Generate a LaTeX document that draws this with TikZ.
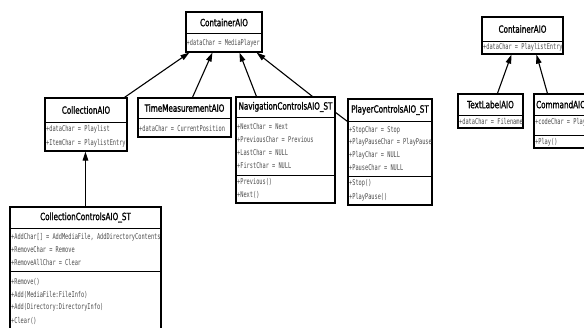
\documentclass[tikz,border=0pt]{standalone}
\usepackage{fontspec}
\usetikzlibrary{arrows.meta,fit,calc}
\newfontfamily\ttlfont[FakeStretch=0.72,FakeBold=1.2]{DejaVu Sans}
\newfontfamily\attfont[FakeStretch=0.66]{DejaVu Sans Mono}
\tikzset{
 clsbox/.style={draw=black, line width=1.1pt, fill=white, inner sep=0pt},
 ttlnode/.style={font=\ttlfont\fontsize{10}{12}\selectfont, inner sep=0pt},
 attnode/.style={font=\attfont\fontsize{8}{9}\selectfont, text=black!70, inner sep=0pt, anchor=west},
 divline/.style={line width=0.9pt},
 inherit/.style={-{Triangle[length=9pt,width=5.5pt]}, line width=1.1pt},
 assoc/.style={line width=1.1pt}
}
\begin{document}
\begin{tikzpicture}[x=1pt,y=-1pt]
\clip (0,0) rectangle (584,327);
\fill[white] (0,0) rectangle (584,327);

% ContainerAIO (left)
\node[clsbox, fit={(186,12) (262,52)}] (cont) {};
\draw[divline] (186,33) -- (262,33);
\node[ttlnode] (contT) at (224,22.5) {ContainerAIO};
\node[attnode] (contA) at (186.5,43) {+dataChar = MediaPlayer};

% CollectionAIO
\node[clsbox, fit={(45,98) (127,151)}] (coll) {};
\draw[divline] (45,122) -- (127,122);
\node[ttlnode] (collT) at (86,110) {CollectionAIO};
\node[attnode] (collA1) at (46,129.5) {+dataChar = Playlist};
\node[attnode] (collA2) at (46,143) {+ItemChar = PlaylistEntry};

% TimeMeasurementAIO
\node[clsbox, fit={(138,98) (231,137)}] (time) {};
\draw[divline] (138,118) -- (231,118);
\node[ttlnode] (timeT) at (184.5,108) {TimeMeasurementAIO};
\node[attnode] (timeA) at (139,128.5) {+dataChar = CurrentPosition};

% NavigationControlsAIO_ST
\node[clsbox, fit={(236,97) (335,203)}] (nav) {};
\draw[divline] (236,117) -- (335,117);
\draw[divline] (236,175) -- (335,175);
\node[ttlnode] (navT) at (285.5,107) {NavigationControlsAIO\_ST};
\node[attnode] (navA1) at (237,126.5) {+NextChar = Next};
\node[attnode] (navA2) at (237,140) {+PreviousChar = Previous};
\node[attnode] (navA3) at (237,153) {+LastChar = NULL};
\node[attnode] (navA4) at (237,166) {+FirstChar = NULL};
\node[attnode] (navM1) at (237,182) {+Previous()};
\node[attnode] (navM2) at (237,195) {+Next()};

% PlayerControlsAIO_ST
\node[clsbox, fit={(348,99) (432,205)}] (player) {};
\draw[divline] (348,121) -- (432,121);
\draw[divline] (348,176) -- (432,176);
\node[ttlnode] (playerT) at (390,110) {PlayerControlsAIO\_ST};
\node[attnode] (playerA1) at (349,130) {+StopChar = Stop};
\node[attnode] (playerA2) at (349,142.5) {+PlayPauseChar = PlayPause};
\node[attnode] (playerA3) at (349,155) {+PlayChar = NULL};
\node[attnode] (playerA4) at (349,168) {+PauseChar = NULL};
\node[attnode] (playerM1) at (349,183.5) {+Stop()};
\node[attnode] (playerM2) at (349,197) {+PlayPause()};

% ContainerAIO (right)
\node[clsbox, fit={(482,17) (563,54)}] (cont2) {};
\draw[divline] (482,41) -- (563,41);
\node[ttlnode] (cont2T) at (522.5,29) {ContainerAIO};
\node[attnode] (cont2A) at (483,47.5) {+dataChar = PlaylistEntry};

% TextLabelAIO
\node[clsbox, fit={(458,94) (523,128)}] (text) {};
\draw[divline] (458,115) -- (523,115);
\node[ttlnode] (textT) at (490.5,104.5) {TextLabelAIO};
\node[attnode] (textA) at (459,121.5) {+dataChar = Filename};

% CommandAIO (cut off by the picture's right edge, as in the reference)
\node[clsbox, fit={(534,94) (590,148)}] (cmd) {};
\draw[divline] (534,115) -- (590,115);
\draw[divline] (534,135) -- (590,135);
\node[ttlnode] (cmdT) at (561,104.5) {CommandAIO};
\node[attnode] (cmdA) at (535,122) {+codeChar = Play};
\node[attnode] (cmdM) at (535,142) {+Play()};

% CollectionControlsAIO_ST
\node[clsbox, fit={(10,207) (161,345)}] (collctl) {};
\draw[divline] (10,228) -- (161,228);
\draw[divline] (10,271) -- (161,271);
\node[ttlnode] (collctlT) at (85.5,217.5) {CollectionControlsAIO\_ST};
\node[attnode] (ccA1) at (11,237) {+AddChar[] = AddMediaFile, AddDirectoryContents};
\node[attnode] (ccA2) at (11,249.5) {+RemoveChar = Remove};
\node[attnode] (ccA3) at (11,262) {+RemoveAllChar = Clear};
\node[attnode] (ccM1) at (11,281.5) {+Remove()};
\node[attnode] (ccM2) at (11,294.5) {+Add(MediaFile:FileInfo)};
\node[attnode] (ccM3) at (11,307.5) {+Add(Directory:DirectoryInfo)};
\node[attnode] (ccM4) at (11,320.5) {+Clear()};

% connectors
\draw[inherit] ($(coll.north west)+(80,0)$) -- ($(cont.south west)+(4,0)$);
\draw[inherit] ($(time.north west)+(55,0)$) -- ($(cont.south west)+(27,0)$);
\draw[inherit] ($(nav.north west)+(21,0)$) -- ($(cont.south west)+(54,0)$);
\draw[inherit] ($(nav.north west)+(77,0)$) -- ($(cont.south east)+(-6,0)$);
\draw[assoc] ($(nav.north east)+(0,16)$) -- ($(player.north west)+(0,23)$);
\draw[inherit] ($(text.north west)+(40,0)$) -- ($(cont2.south west)+(30,0)$);
\draw[inherit] ($(cmd.north west)+(14,0)$) -- ($(cont2.south west)+(55,0)$);
\draw[inherit] ($(collctl.north west)+(76,0)$) -- ($(coll.south west)+(41,0)$);
\end{tikzpicture}
\end{document}
